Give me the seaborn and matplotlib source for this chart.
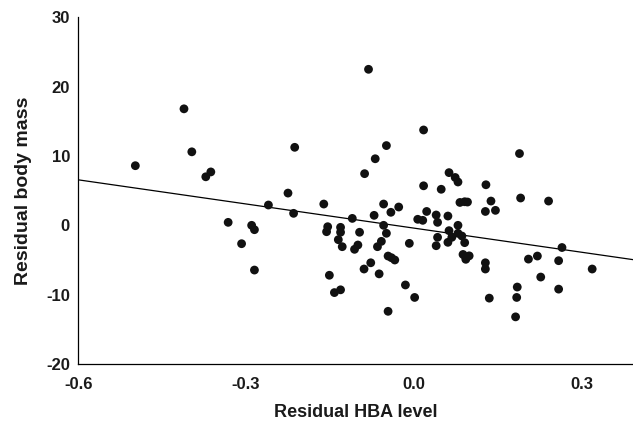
import matplotlib
matplotlib.use("Agg")
import matplotlib.pyplot as plt
import seaborn as sns
import pandas as pd

# Residual HBA level (x) and residual body mass (y)
hba = [-0.498, -0.411, -0.397, -0.363, -0.372, -0.081, 0.0175, -0.213, -0.049, -0.069,
       -0.088, 0.063, 0.074, 0.079, 0.0175, 0.049, -0.225, 0.189, 0.129, -0.260,
       -0.332, -0.290, -0.285, -0.308, -0.285, -0.161, -0.215, -0.054, -0.041, -0.027,
       -0.071, -0.110, -0.054, -0.049, -0.154, -0.156, -0.131, -0.131, -0.135, -0.128,
       -0.097, -0.100, -0.106, -0.058, -0.065, -0.046, -0.040, -0.034, -0.008, -0.077,
       -0.089, -0.062, -0.151, -0.131, -0.142, -0.015, 0.0015, -0.046, 0.023, 0.040,
       0.061, 0.007, 0.016, 0.0425, 0.079, 0.063, 0.079, 0.086, 0.0425, 0.068,
       0.061, 0.040, 0.091, 0.088, 0.093, 0.099, 0.093, 0.0825, 0.091, 0.096,
       0.191, 0.241, 0.138, 0.128, 0.146, 0.265, 0.205, 0.221, 0.259, 0.319,
       0.128, 0.128, 0.227, 0.259, 0.185, 0.184, 0.135, 0.182]
mass = [8.6, 16.8, 10.6, 7.7, 7.0, 22.5, 13.75, 11.25, 11.5, 9.6,
        7.45, 7.6, 6.9, 6.25, 5.7, 5.2, 4.65, 10.35, 5.85, 2.93,
        0.43, 0.0, -0.63, -2.65, -6.45, 3.07, 1.73, 3.07, 1.88, 2.64,
        1.44, 1.0, 0.0, -1.15, -0.2, -0.92, -0.29, -1.0, -2.07, -3.08,
        -1.0, -2.84, -3.46, -2.31, -3.08, -4.43, -4.67, -5.0, -2.6, -5.4,
        -6.3, -7.0, -7.2, -9.3, -9.7, -8.6, -10.4, -12.4, 2.0, 1.49,
        1.34, 0.87, 0.72, 0.43, 0.0, -0.77, -1.15, -1.54, -1.73, -1.73,
        -2.45, -2.94, -2.5, -4.2, -4.6, -4.4, -4.9, 3.3, 3.4, 3.36,
        3.94, 3.5, 3.5, 2.0, 2.16, -3.2, -4.87, -4.43, -5.1, -6.3,
        -5.4, -6.3, -7.46, -9.2, -8.9, -10.4, -10.5, -13.2]

# fitted regression line
fit_intercept = -0.4
fit_slope = -11.6

x_ticks = [-0.6, -0.3, 0.0, 0.3]
y_ticks = [-20, -10, 0, 10, 20, 30]

df = pd.DataFrame({"hba": hba, "mass": mass})

sns.set_style("white")
plt.rcParams["font.family"] = ["Liberation Sans", "DejaVu Sans"]

fig = plt.figure(figsize=(6.33, 4.25), dpi=100)
ax = fig.add_axes([0.1237, 0.1435, 0.8763, 0.8158])

sns.scatterplot(data=df, x="hba", y="mass", ax=ax, color="#111111", s=40,
                edgecolor="none", zorder=3)
ax.axline((0, fit_intercept), slope=fit_slope, color="black", lw=0.9, zorder=2)

ax.set_xlim(-0.6, 0.392)
ax.set_ylim(-20, 30)
ax.set_xticks(x_ticks)
ax.set_xticklabels([f"{v:.1f}" for v in x_ticks])
ax.set_yticks(y_ticks)
ax.set_yticklabels([str(v) for v in y_ticks])

for side in ["top", "right"]:
    ax.spines[side].set_visible(False)
for side in ["left", "bottom"]:
    ax.spines[side].set_color("black")
    ax.spines[side].set_linewidth(0.9)

ax.tick_params(axis="both", direction="out", length=3, width=0.8, color="black",
               labelsize=12, labelcolor="#1a1a1a")
ax.tick_params(axis="x", pad=6)
ax.tick_params(axis="y", pad=3)
for lab in ax.get_xticklabels() + ax.get_yticklabels():
    lab.set_fontweight("bold")

ax.set_xlabel("Residual HBA level", fontsize=13, fontweight="bold", labelpad=9,
              color="#1a1a1a")
ax.set_ylabel("Residual body mass", fontsize=14, fontweight="bold", labelpad=10,
              color="#1a1a1a")

fig.savefig("out.png", dpi=100)
